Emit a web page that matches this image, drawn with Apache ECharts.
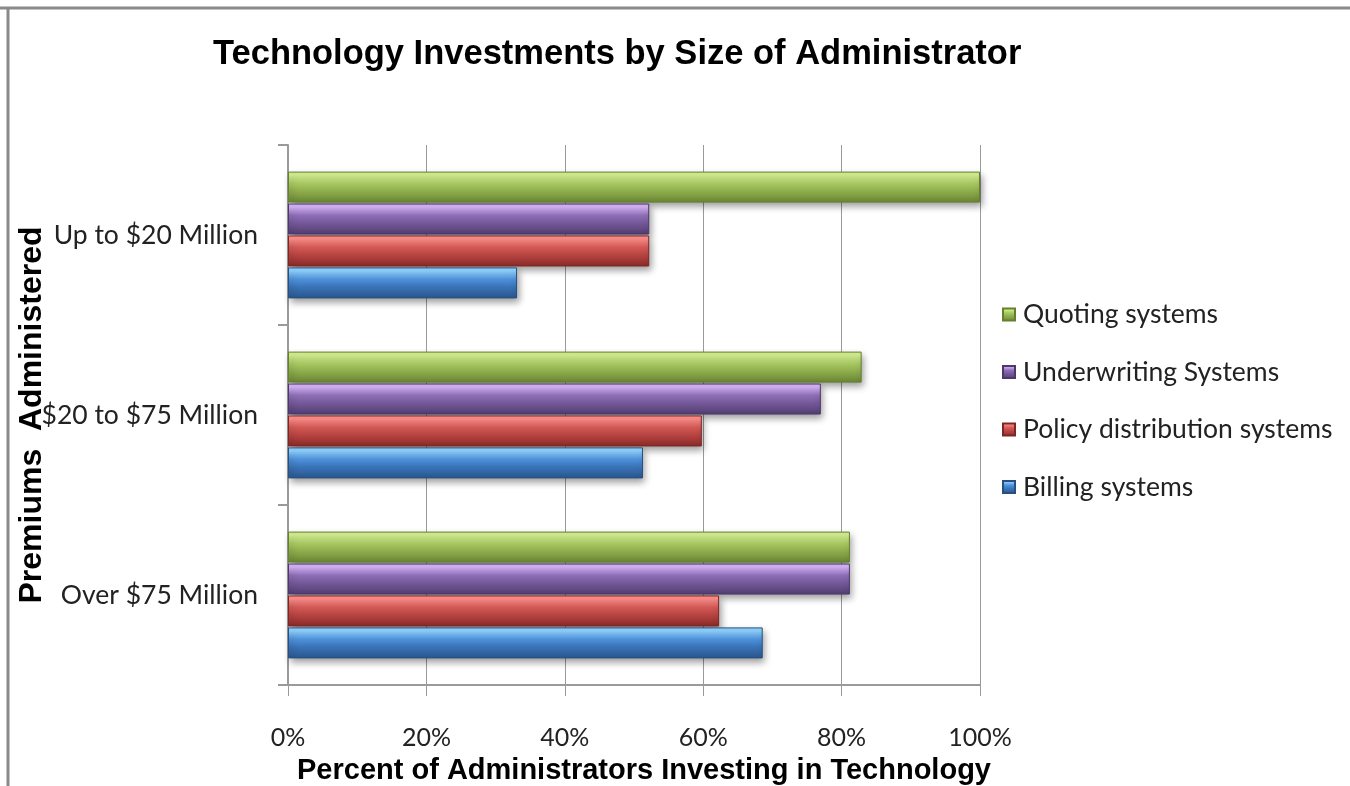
<!DOCTYPE html>
<html>
<head>
<meta charset="utf-8">
<script src="https://cdn.jsdelivr.net/npm/echarts@6/dist/echarts.min.js"></script>
<style>
  html, body { margin: 0; padding: 0; background: #fff; }
  #chart { width: 1350px; height: 786px; }
</style>
</head>
<body>
<div id="chart"></div>
<script>
// Premium size groups, listed bottom to top on the category axis
const categories = ['Over $75 Million', '$20 to $75 Million', 'Up to $20 Million'];

// Share of administrators investing in each technology (%)
const quoting      = [81.2, 82.9, 100];
const underwriting = [81.2, 77.0, 52.2];
const policyDist   = [62.3, 59.8, 52.2];
const billing      = [68.6, 51.3, 33.1];

const xTicks = [0, 20, 40, 60, 80, 100];

// Series listed in the order they stack inside each group (top to bottom)
const seriesNames = ['Quoting systems', 'Underwriting Systems', 'Policy distribution systems', 'Billing systems'];

// Bevel-like shading: bright top edge, base colour, dark lower edge
function shade(top, upper, mid, bottom) {
  return new echarts.graphic.LinearGradient(0, 0, 0, 1, [
    { offset: 0, color: top },
    { offset: 0.12, color: top },
    { offset: 0.38, color: upper },
    { offset: 0.62, color: mid },
    { offset: 1, color: bottom }
  ]);
}

const palette = [
  { fill: shade('#d4f091', '#a9c964', '#8fae4d', '#6a8534'), border: '#63802f' },
  { fill: shade('#d6b3f8', '#8f6fb8', '#76599a', '#523d72'), border: '#4c3869' },
  { fill: shade('#ff8e8a', '#d35a56', '#b84542', '#8a2a28'), border: '#7e2624' },
  { fill: shade('#8fd2ff', '#4f92dc', '#3a74b8', '#2a568c'), border: '#284f80' }
];

const values = [quoting, underwriting, policyDist, billing];

const series = seriesNames.map((name, i) => ({
  name: name,
  type: 'bar',
  data: values[i],
  barWidth: 31,
  barGap: '3%',
  barCategoryGap: '28%',
  itemStyle: {
    color: palette[i].fill,
    borderColor: palette[i].border,
    borderWidth: 1,
    shadowColor: 'rgba(0,0,0,0.4)',
    shadowBlur: 7,
    shadowOffsetX: 2,
    shadowOffsetY: 4
  },
  emphasis: { disabled: true }
}));

const chart = echarts.init(document.getElementById('chart'), null, { renderer: 'canvas' });

chart.setOption({
  animation: false,
  backgroundColor: '#ffffff',
  title: {
    text: 'Technology Investments by Size of Administrator',
    left: 208,
    top: 32,
    textStyle: {
      fontFamily: 'Liberation Sans',
      fontWeight: 'bold',
      fontSize: 34.5,
      color: '#000'
    }
  },
  legend: {
    orient: 'vertical',
    left: 997,
    top: 296,
    itemWidth: 12,
    itemHeight: 12,
    itemGap: 30.5,
    icon: 'rect',
    data: seriesNames,
    textStyle: { fontFamily: 'Lato', fontSize: 26.5, color: '#222', padding: [0, 0, 0, 3] }
  },
  grid: {
    left: 288,
    right: 370,
    top: 145,
    bottom: 101,
    containLabel: false,
    outerBoundsMode: 'none'
  },
  xAxis: {
    type: 'value',
    min: 0,
    max: 100,
    interval: 20,
    name: 'Percent of Administrators Investing in Technology',
    nameLocation: 'middle',
    nameGap: 71,
    nameMoveOverlap: false,
    nameTextStyle: {
      fontFamily: 'Liberation Sans',
      fontWeight: 'bold',
      fontSize: 29,
      color: '#000',
      padding: [0, 0, 0, 20]
    },
    axisLine: { show: true, lineStyle: { color: '#9a9a9a', width: 2 } },
    axisTick: { show: true, length: 11, lineStyle: { color: '#9a9a9a' } },
    axisLabel: {
      margin: 40,
      fontFamily: 'Lato',
      fontSize: 25,
      color: '#222',
      formatter: v => (xTicks.includes(v) ? v + '%' : '')
    },
    splitLine: { show: true, lineStyle: { color: '#9a9a9a', width: 1 } }
  },
  yAxis: {
    type: 'category',
    data: categories,
    name: 'Premiums  Administered',
    nameLocation: 'middle',
    nameRotate: 90,
    nameGap: 240,
    nameMoveOverlap: false,
    nameTextStyle: {
      fontFamily: 'Liberation Sans',
      fontWeight: 'bold',
      fontSize: 32,
      color: '#000'
    },
    axisLine: { show: true, lineStyle: { color: '#9a9a9a', width: 2 } },
    axisTick: { show: true, length: 10, lineStyle: { color: '#9a9a9a', width: 2 } },
    axisLabel: {
      margin: 30,
      fontFamily: 'Lato',
      fontSize: 26.5,
      color: '#222'
    },
    splitLine: { show: false }
  },
  graphic: [
    { type: 'line', shape: { x1: 0, y1: 8, x2: 1350, y2: 8 }, style: { stroke: '#8a8a8a', lineWidth: 3 } },
    { type: 'line', shape: { x1: 8, y1: 7, x2: 8, y2: 786 }, style: { stroke: '#8a8a8a', lineWidth: 3 } }
  ],
  series: series
});
</script>
</body>
</html>
